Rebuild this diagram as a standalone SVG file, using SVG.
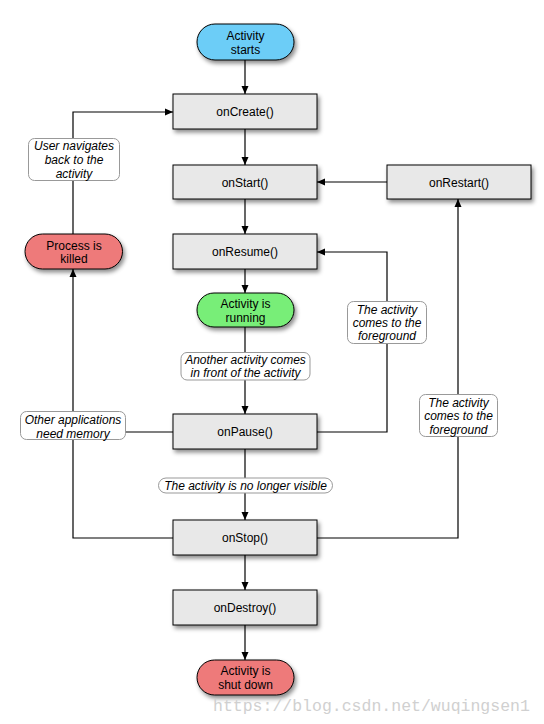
<svg xmlns="http://www.w3.org/2000/svg" width="544" height="724" viewBox="0 0 544 724">
<defs>
<filter id="sh" x="-20%" y="-30%" width="140%" height="170%">
<feDropShadow dx="2" dy="3" stdDeviation="2" flood-color="#000" flood-opacity="0.45"/>
</filter>
<marker id="ar" markerWidth="8" markerHeight="8" viewBox="0 0 8 8" refX="8" refY="4" orient="auto" markerUnits="userSpaceOnUse">
<path d="M0,0.5 L8,4 L0,7.5 Z" fill="#000"/>
</marker>
</defs>
<style>
text{font-family:"Liberation Sans",Arial,sans-serif;font-size:12px;fill:#000;text-anchor:middle}
.lbl text,text.it{font-style:italic}
.box{fill:#e8e8e8;stroke:#000;stroke-width:1;filter:url(#sh)}
.pill{stroke:#000;stroke-width:1;filter:url(#sh)}
.blue{fill:#6ccdf7}
.green{fill:#78ee78}
.red{fill:#ee7a7a}
.note{fill:#fff;stroke:#999;stroke-width:1}
.ln{fill:none;stroke:#000;stroke-width:1.2}
.wm{font-family:"Liberation Mono","DejaVu Sans Mono",monospace;font-size:16.5px;fill:#d0d0d0;text-anchor:start}
</style>
<rect width="544" height="724" fill="#fff"/>
<g id="connectors">
<line class="ln" x1="245" y1="60" x2="245" y2="94" marker-end="url(#ar)"/>
<line class="ln" x1="245" y1="129" x2="245" y2="165" marker-end="url(#ar)"/>
<line class="ln" x1="245" y1="199" x2="245" y2="234" marker-end="url(#ar)"/>
<line class="ln" x1="245" y1="269" x2="245" y2="293" marker-end="url(#ar)"/>
<line class="ln" x1="245" y1="327" x2="245" y2="414" marker-end="url(#ar)"/>
<line class="ln" x1="245" y1="449" x2="245" y2="520" marker-end="url(#ar)"/>
<line class="ln" x1="245" y1="555" x2="245" y2="590" marker-end="url(#ar)"/>
<line class="ln" x1="245" y1="625" x2="245" y2="660" marker-end="url(#ar)"/>
<line class="ln" x1="387" y1="182" x2="317" y2="182" marker-end="url(#ar)"/>
<polyline class="ln" points="317,432 387,432 387,252 317,252" marker-end="url(#ar)"/>
<polyline class="ln" points="317,538 458,538 458,199" marker-end="url(#ar)"/>
<polyline class="ln" points="173,538 73,538 73,269" marker-end="url(#ar)"/>
<line class="ln" x1="173" y1="432" x2="73" y2="432"/>
<polyline class="ln" points="73,234 73,112 173,112" marker-end="url(#ar)"/>
</g>
<g id="lbl-user-navigates" class="lbl">
<rect class="note" x="28.5" y="138.5" width="91" height="42" rx="6"/>
<text x="74" y="150.3">User navigates</text>
<text x="74" y="164">back to the</text>
<text x="74" y="177.6">activity</text>
</g>
<g id="lbl-another-activity" class="lbl">
<rect class="note" x="181" y="352.5" width="129" height="27.5" rx="6"/>
<text x="245.5" y="364.3">Another activity comes</text>
<text x="245.5" y="377">in front of the activity</text>
</g>
<g id="lbl-foreground-1" class="lbl">
<rect class="note" x="347.5" y="301.5" width="79" height="42" rx="6"/>
<text x="387" y="313.6">The activity</text>
<text x="387" y="327">comes to the</text>
<text x="387" y="340.3">foreground</text>
</g>
<g id="lbl-other-apps" class="lbl">
<rect class="note" x="20.5" y="411.5" width="105" height="28" rx="6"/>
<text x="73" y="424.3">Other applications</text>
<text x="73" y="437.8">need memory</text>
</g>
<g id="lbl-foreground-2" class="lbl">
<rect class="note" x="419.5" y="394.5" width="78" height="42" rx="6"/>
<text x="458.5" y="406.5">The activity</text>
<text x="458.5" y="420">comes to the</text>
<text x="458.5" y="433.5">foreground</text>
</g>
<g id="lbl-not-visible" class="lbl">
<rect class="note" x="158.5" y="478" width="174" height="15" rx="7.5"/>
<text x="245.5" y="490">The activity is no longer visible</text>
</g>
<g id="activity-starts">
<rect class="pill blue" x="197" y="24" width="97" height="36" rx="18"/>
<text x="245.5" y="39.5">Activity</text>
<text x="245.5" y="53.5">starts</text>
</g>
<g id="onCreate">
<rect class="box" x="173" y="94" width="144" height="35"/>
<text x="245" y="116">onCreate()</text>
</g>
<g id="onStart">
<rect class="box" x="173" y="165" width="144" height="34"/>
<text x="245" y="186.5">onStart()</text>
</g>
<g id="onRestart">
<rect class="box" x="387" y="165" width="144" height="34"/>
<text x="459" y="186.5">onRestart()</text>
</g>
<g id="onResume">
<rect class="box" x="173" y="234" width="144" height="35"/>
<text x="245" y="256">onResume()</text>
</g>
<g id="activity-running">
<rect class="pill green" x="197" y="293" width="97" height="34" rx="17"/>
<text x="245.5" y="308.3">Activity is</text>
<text x="245.5" y="322">running</text>
</g>
<g id="process-killed">
<rect class="pill red" x="25" y="234" width="97.5" height="35" rx="17.5"/>
<text x="74" y="249.5">Process is</text>
<text x="74" y="262.8">killed</text>
</g>
<g id="onPause">
<rect class="box" x="173" y="414" width="144" height="35"/>
<text x="245" y="436">onPause()</text>
</g>
<g id="onStop">
<rect class="box" x="173" y="520" width="144" height="35"/>
<text x="245" y="542">onStop()</text>
</g>
<g id="onDestroy">
<rect class="box" x="173" y="590" width="144" height="35"/>
<text x="245" y="612">onDestroy()</text>
</g>
<g id="activity-shut-down">
<rect class="pill red" x="197" y="660" width="97" height="35" rx="17.5"/>
<text x="245.5" y="675">Activity is</text>
<text x="245.5" y="688.5">shut down</text>
</g>
<text class="wm" x="213" y="711">https://blog.csdn.net/wuqingsen1</text>
</svg>
